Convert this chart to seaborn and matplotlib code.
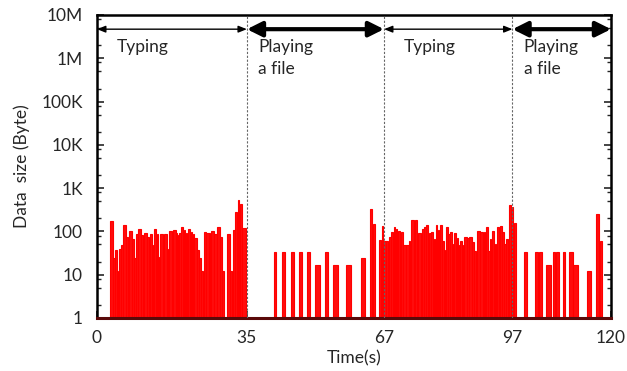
import numpy as np
import pandas as pd
import seaborn as sns
import matplotlib
matplotlib.use("Agg")
import matplotlib.pyplot as plt
from matplotlib.ticker import LogLocator, FixedLocator, NullFormatter

# ---- data: each burst = (start time, end time, bytes) ----
t_start = [3.0, 3.8, 4.2, 4.8, 5.1, 5.6, 6.0, 6.8, 7.2, 7.5, 8.2, 8.7, 9.1, 9.6, 10.3, 10.9,
           11.7, 12.2, 12.8, 13.2, 13.9, 14.4, 14.7, 15.6, 16.3, 16.7, 17.7, 18.4, 18.8, 19.2,
           19.6, 20.2, 20.7, 21.1, 21.9, 22.3, 22.7, 23.3, 23.8, 24.3, 24.9, 25.5, 26.1, 26.5,
           27.3, 28.0, 28.7, 29.2, 30.2, 31.1, 31.6, 32.2, 32.8, 33.3, 33.8,
           41.2, 43.0, 45.1, 47.0, 49.0, 50.8, 53.1, 55.0, 58.1, 61.6, 63.6, 64.3, 65.7, 66.4,
           66.9, 67.5, 68.1, 68.6, 69.2, 69.7, 70.2, 70.8, 71.4, 72.1, 72.8, 73.2, 74.1, 74.9,
           75.7, 76.3, 76.8, 77.4, 78.0, 78.6, 79.0, 79.5, 80.0, 80.5, 81.1, 81.4, 81.9, 82.4,
           83.0, 83.4, 83.9, 84.4, 84.8, 85.3, 85.7, 86.4, 86.9, 87.5, 88.0, 88.6, 89.4, 90.2,
           90.7, 91.3, 91.7, 92.1, 92.8, 93.2, 94.0, 94.5, 95.0, 95.5, 96.0, 96.8, 97.2,
           99.7, 102.3, 103.2, 104.8, 106.3, 107.1, 108.7, 110.2, 111.1, 114.2, 116.3, 117.4]
t_end = [3.8, 4.2, 4.8, 5.1, 5.6, 6.0, 6.8, 7.2, 7.5, 8.2, 8.7, 9.1, 9.6, 10.3, 10.9, 11.7,
         12.2, 12.8, 13.2, 13.9, 14.4, 14.7, 15.6, 16.3, 16.7, 17.7, 18.4, 18.8, 19.2, 19.6,
         20.2, 20.7, 21.1, 21.9, 22.3, 22.7, 23.3, 23.8, 24.3, 24.9, 25.5, 26.1, 26.5, 27.3,
         28.0, 28.7, 29.2, 29.8, 31.1, 31.6, 32.2, 32.8, 33.3, 33.8, 34.9,
         41.9, 43.9, 46.0, 47.9, 49.9, 52.1, 53.9, 56.5, 59.5, 62.6, 64.3, 64.9, 66.4, 66.9,
         67.5, 68.1, 68.6, 69.2, 69.7, 70.2, 70.8, 71.4, 72.1, 72.8, 73.2, 74.1, 74.9, 75.7,
         76.3, 76.8, 77.4, 78.0, 78.6, 79.0, 79.5, 80.0, 80.5, 81.1, 81.4, 81.9, 82.4, 83.0,
         83.4, 83.9, 84.4, 84.8, 85.3, 85.7, 86.4, 86.9, 87.5, 88.0, 88.6, 89.4, 90.2, 90.7,
         91.3, 91.7, 92.1, 92.8, 93.2, 94.0, 94.5, 95.0, 95.5, 96.0, 96.8, 97.2, 98.0,
         100.5, 103.0, 104.0, 106.0, 107.1, 107.9, 109.4, 111.1, 112.4, 115.5, 117.4, 118.0]
data_size = [174, 24, 37, 12, 39, 48, 140, 74, 37, 102, 67, 24, 87, 113, 83, 92,
             74, 87, 48, 113, 87, 26, 87, 85, 39, 102, 107, 90, 83, 93,
             124, 107, 90, 113, 95, 85, 71, 37, 24, 12, 98, 93, 90, 102,
             85, 126, 76, 12, 88, 12, 107, 275, 530, 420, 120,
             34, 34, 34, 34, 34, 17, 34, 17, 17, 24, 330, 150, 63, 133,
             61, 61, 73, 98, 124, 113, 100, 95, 48, 48, 61, 183, 183, 90,
             113, 124, 140, 93, 98, 67, 137, 110, 143, 61, 37, 124, 88, 98,
             52, 90, 71, 48, 61, 48, 76, 71, 76, 58, 35, 102, 95, 95,
             124, 35, 67, 102, 51, 124, 133, 98, 52, 68, 410, 370, 153,
             34, 34, 34, 17, 34, 34, 34, 34, 17, 12, 250, 60]

phase_bounds = [0, 35, 67, 97, 120]
phase_names = ["Typing", "Playing\na file", "Typing", "Playing\na file"]
phase_thick = [False, True, False, True]
x_ticks = [0, 35, 67, 97, 120]
y_ticks = [1, 10, 100, 1e3, 1e4, 1e5, 1e6, 1e7]
y_tick_labels = ["1", "10", "100", "1K", "10K", "100K", "1M", "10M"]

# ---- build table ----
df = pd.DataFrame({"start": t_start, "end": t_end, "size": data_size})
df["mid"] = (df["start"] + df["end"]) / 2
edges = sorted(set(t_start) | set(t_end))

sns.set_style("white")
plt.rcParams["font.family"] = ["Lato", "DejaVu Sans"]

fig = plt.figure(figsize=(6.27, 3.71), dpi=100)
ax = fig.add_axes([0.1547, 0.1429, 0.8198, 0.8167])

sns.histplot(data=df, x="mid", weights="size", bins=edges, stat="count",
             element="bars", color="#ff0000", edgecolor="#ff0000", alpha=0.95,
             linewidth=0.8, shrink=0.8, ax=ax)
ax.set_yscale("log")
ax.set_ylim(1, 1e7)
ax.set_xlim(0, 120)

# phase separators
for b in phase_bounds[1:-1]:
    ax.axvline(b, color="#666666", lw=0.8, ls=(0, (2, 1.5)), zorder=3)

# phase arrows and labels
arrow_y = 4.7e6
for i, name in enumerate(phase_names):
    x0, x1 = phase_bounds[i], phase_bounds[i + 1]
    if phase_thick[i]:
        style = "<|-|>,head_length=0.9,head_width=0.45"
        lw = 3.0
    else:
        style = "<|-|>,head_length=0.5,head_width=0.2"
        lw = 1.0
    ax.annotate("", xy=(x1, arrow_y), xytext=(x0, arrow_y),
                arrowprops=dict(arrowstyle=style, lw=lw, color="black",
                                shrinkA=0, shrinkB=0, mutation_scale=10))
    ax.text(x0 + (4.7 if i % 2 == 0 else 2.6), 2.8e6, name, fontsize=12.5,
            ha="left", va="top", linespacing=1.5)

# axes styling
ax.set_xticks(x_ticks)
ax.set_xticklabels([str(v) for v in x_ticks])
ax.yaxis.set_major_locator(FixedLocator(y_ticks))
ax.set_yticklabels(y_tick_labels)
ax.yaxis.set_minor_locator(LogLocator(base=10, subs=[2, 5, 8]))
ax.yaxis.set_minor_formatter(NullFormatter())
ax.tick_params(axis="both", which="major", direction="in", labelsize=12.5,
               length=5, width=1.2, right=True, top=False, bottom=True, left=True)
ax.tick_params(axis="y", which="major", pad=10)
ax.tick_params(axis="x", which="major", pad=9)
ax.tick_params(axis="y", which="minor", direction="in", length=3, width=1, right=True, left=True)

for side in ["left", "right", "top"]:
    ax.spines[side].set_color("black")
    ax.spines[side].set_linewidth(1.8)
ax.spines["bottom"].set_color("#5a0a0a")
ax.spines["bottom"].set_linewidth(2.2)

ax.set_xlabel("Time(s)", fontsize=12.5, labelpad=3)
ax.set_ylabel("Data  size (Byte)", fontsize=12.5, labelpad=8)

fig.savefig("out.png", dpi=100)
